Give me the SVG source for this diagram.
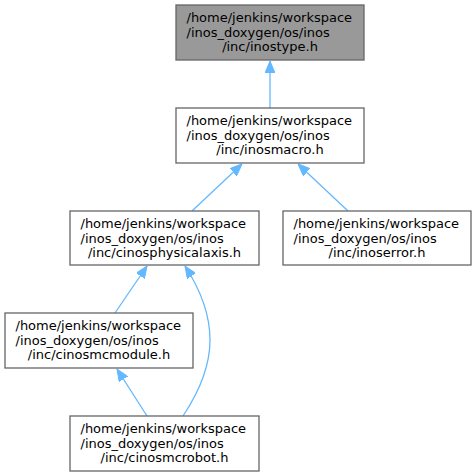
<svg xmlns="http://www.w3.org/2000/svg" width="476" height="476" viewBox="0 0 476 476">
<defs>
<style>
.box{fill:#ffffff;stroke:#666666;stroke-width:1.3}
.cur{fill:#999999;stroke:#666666;stroke-width:1.3}
.t{font-family:"DejaVu Sans",sans-serif;font-size:13px;fill:#000000}
.e{fill:none;stroke:#63b8ff;stroke-width:1.3}
</style>
<marker id="ah" viewBox="0 0 12 10" refX="12" refY="5" markerWidth="12" markerHeight="10" markerUnits="userSpaceOnUse" orient="auto">
<path d="M0,0 L12,5 L0,10 Z" fill="#63b8ff" stroke="#63b8ff"/>
</marker>
</defs>
<rect width="476" height="476" fill="#ffffff"/>
<g id="edges">
<path class="e" d="M270,108 L270,61" marker-end="url(#ah)"/>
<path class="e" d="M192,211 L242,164" marker-end="url(#ah)"/>
<path class="e" d="M348,211 L298,164" marker-end="url(#ah)"/>
<path class="e" d="M115,313 L147,266" marker-end="url(#ah)"/>
<path class="e" d="M147,416 L117,369" marker-end="url(#ah)"/>
<path class="e" d="M183,416 C197,395 210,370 210,340 C210,310 198,286 185,266" marker-end="url(#ah)"/>
</g>
<g id="n1">
<rect class="cur" x="176" y="5" width="188" height="55"/>
<text class="t" x="186.5" y="22">/home/jenkins/workspace</text>
<text class="t" x="186.5" y="36.5">/inos_doxygen/os/inos</text>
<text class="t" x="270" y="51" text-anchor="middle">/inc/inostype.h</text>
</g>
<g id="n2">
<rect class="box" x="176" y="108" width="188" height="55"/>
<text class="t" x="186.5" y="125">/home/jenkins/workspace</text>
<text class="t" x="186.5" y="139.5">/inos_doxygen/os/inos</text>
<text class="t" x="270" y="154" text-anchor="middle">/inc/inosmacro.h</text>
</g>
<g id="n3">
<rect class="box" x="70" y="211" width="189" height="54"/>
<text class="t" x="80.5" y="228">/home/jenkins/workspace</text>
<text class="t" x="80.5" y="242.5">/inos_doxygen/os/inos</text>
<text class="t" x="164.5" y="257" text-anchor="middle">/inc/cinosphysicalaxis.h</text>
</g>
<g id="n4">
<rect class="box" x="283" y="211" width="188" height="54"/>
<text class="t" x="293.5" y="228">/home/jenkins/workspace</text>
<text class="t" x="293.5" y="242.5">/inos_doxygen/os/inos</text>
<text class="t" x="377" y="257" text-anchor="middle">/inc/inoserror.h</text>
</g>
<g id="n5">
<rect class="box" x="5" y="313" width="188" height="55"/>
<text class="t" x="15.5" y="330">/home/jenkins/workspace</text>
<text class="t" x="15.5" y="344.5">/inos_doxygen/os/inos</text>
<text class="t" x="99" y="359" text-anchor="middle">/inc/cinosmcmodule.h</text>
</g>
<g id="n6">
<rect class="box" x="70" y="416" width="189" height="55"/>
<text class="t" x="80.5" y="433">/home/jenkins/workspace</text>
<text class="t" x="80.5" y="447.5">/inos_doxygen/os/inos</text>
<text class="t" x="164.5" y="462" text-anchor="middle">/inc/cinosmcrobot.h</text>
</g>
</svg>
